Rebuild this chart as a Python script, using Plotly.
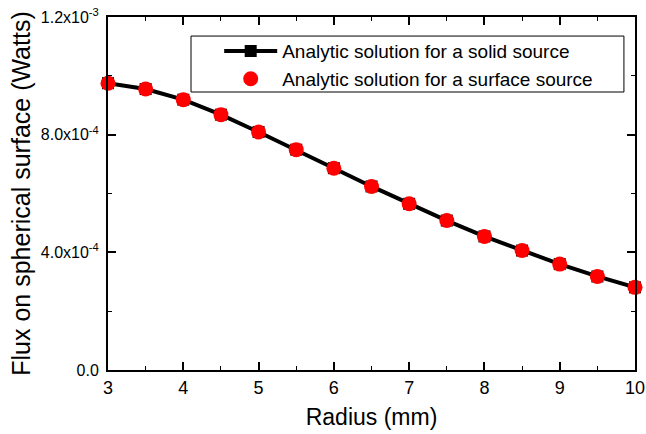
import plotly.graph_objects as go

radius = [3, 3.5, 4, 4.5, 5, 5.5, 6, 6.5, 7, 7.5, 8, 8.5, 9, 9.5, 10]
flux_solid = [9.75e-4, 9.55e-4, 9.19e-4, 8.68e-4, 8.09e-4, 7.49e-4, 6.86e-4, 6.24e-4,
              5.65e-4, 5.08e-4, 4.54e-4, 4.06e-4, 3.60e-4, 3.18e-4, 2.81e-4]
flux_surface = list(flux_solid)

y_tickvals = [0, 4e-4, 8e-4, 1.2e-3]
y_ticktext = ["0.0", "4.0x10<sup>-4</sup>", "8.0x10<sup>-4</sup>", "1.2x10<sup>-3</sup>"]
x_tickvals = [3, 4, 5, 6, 7, 8, 9, 10]

name_solid = "Analytic solution for a solid source"
name_surface = "Analytic solution for a surface source"

fig = go.Figure()
fig.add_trace(go.Scatter(
    x=radius, y=flux_solid, name=name_solid, mode="lines+markers",
    line=dict(color="black", width=4),
    marker=dict(symbol="square", color="black", size=12),
    cliponaxis=False,
))
fig.add_trace(go.Scatter(
    x=radius, y=flux_surface, name=name_surface, mode="markers",
    marker=dict(symbol="circle", color="#ff0000", size=15),
    cliponaxis=False,
))

font = "Liberation Sans, Arial, sans-serif"
fig.update_layout(
    width=646, height=434,
    margin=dict(l=108, r=11, t=17, b=64, autoexpand=False),
    paper_bgcolor="white", plot_bgcolor="white",
    font=dict(family=font, color="black", size=14),
    showlegend=True,
    legend=dict(
        x=0.211, y=0.957, xanchor="left", yanchor="top",
        bgcolor="rgba(0,0,0,0)", borderwidth=0,
        font=dict(size=19, family=font),
        itemwidth=53, tracegroupgap=0,
    ),
    shapes=[dict(type="rect", xref="paper", yref="paper",
                 x0=0.1575, x1=0.979, y0=0.7875, y1=0.946,
                 line=dict(color="black", width=1), layer="above")],
    xaxis=dict(
        range=[3, 10], tickvals=x_tickvals, automargin=False,
        showline=True, linecolor="black", linewidth=2, mirror="ticks",
        ticks="inside", ticklen=8, tickwidth=1.5, tickcolor="black",
        minor=dict(dtick=0.5, ticks="inside", ticklen=4, tickwidth=1, tickcolor="black"),
        showgrid=False, zeroline=False, ticklabeloverflow="allow",
        tickfont=dict(size=18),
        title=dict(text="Radius (mm)", font=dict(size=23), standoff=12),
    ),
    yaxis=dict(
        range=[0, 1.2e-3], tickvals=y_tickvals, ticktext=y_ticktext, automargin=False,
        showline=True, linecolor="black", linewidth=2, mirror="ticks",
        ticks="inside", ticklen=8, tickwidth=1.5, tickcolor="black",
        minor=dict(tickvals=[2e-4, 6e-4, 1e-3], ticks="inside", ticklen=4, tickwidth=1, tickcolor="black"),
        showgrid=False, zeroline=False, ticklabelstandoff=4, ticklabeloverflow="allow",
        tickfont=dict(size=16),
        title=dict(text="Flux on spherical surface (Watts)", font=dict(size=25), standoff=3),
    ),
)
fig.write_html(
    "out.html",
    config={"displayModeBar": False},
    post_script="document.body.style.margin='0';document.body.style.overflow='hidden';",
)
